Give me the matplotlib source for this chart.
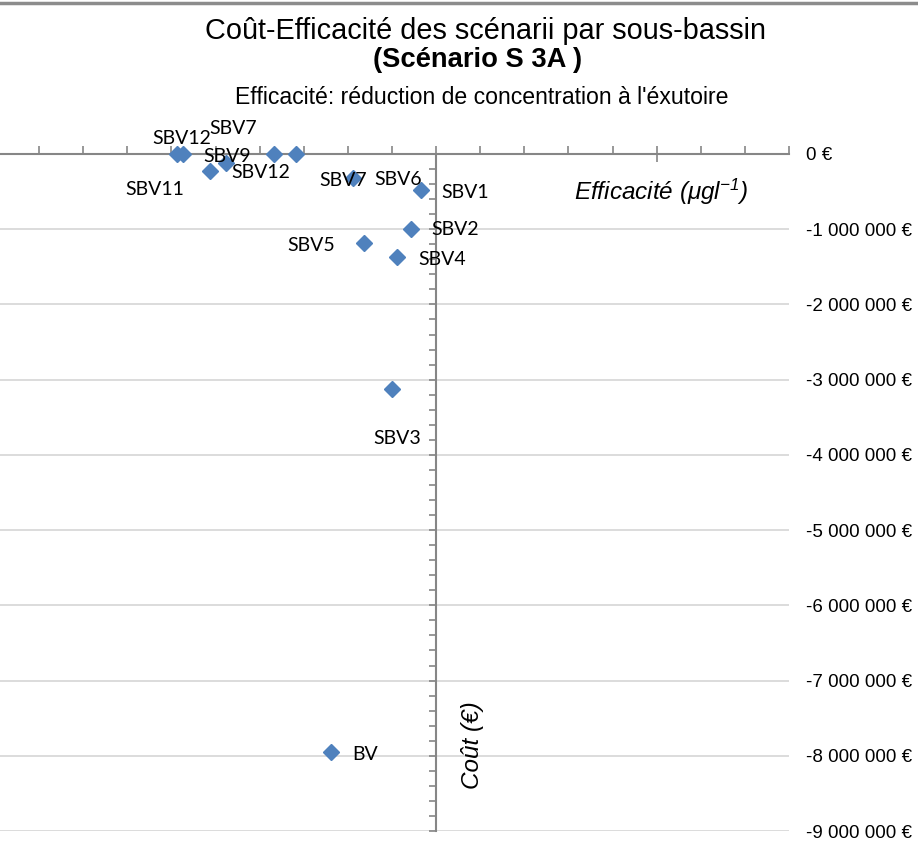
import matplotlib
matplotlib.use("Agg")
import matplotlib.pyplot as plt
from matplotlib.ticker import MultipleLocator, FixedLocator
from matplotlib.lines import Line2D

# ---- data ----
labels = ["SBV12", "SBV9", "SBV12", "SBV11", "SBV7", "SBV7", "SBV6",
          "SBV1", "SBV2", "SBV5", "SBV4", "SBV3", "BV"]
efficacite = [-0.1175, -0.1147, -0.1025, -0.0952, -0.0735, -0.0635, -0.0376,
              -0.0068, -0.0113, -0.0327, -0.0177, -0.0200, -0.0476]
cout = [0, 0, -226000, -120000, 0, 0, -319000,
        -479000, -997000, -1184000, -1370000, -3125000, -7952000]
ytick_values = [0, -1e6, -2e6, -3e6, -4e6, -5e6, -6e6, -7e6, -8e6, -9e6]
ytick_labels = ["0 €", "-1 000 000 €", "-2 000 000 €", "-3 000 000 €", "-4 000 000 €",
                "-5 000 000 €", "-6 000 000 €", "-7 000 000 €", "-8 000 000 €", "-9 000 000 €"]

# label offsets (pixels: dx right, dy down)
label_offsets = [(5, -16), (44, 3), (51, 1), (-71, 26), (-41, -26), (47, 27), (45, 2),
                 (44, 2), (44, 1), (-53, 2), (45, 2), (5, 49), (34, 2)]

W, H = 918, 855
fig = plt.figure(figsize=(W / 100, H / 100), dpi=100)
fig.patch.set_facecolor("white")

ax_left = -5 / W
ax_right = 789 / W
ax_top = 1 - 154 / H
ax_bot = 1 - 831 / H
ax = fig.add_axes([ax_left, ax_bot, ax_right - ax_left, ax_top - ax_bot])
ax.set_xlim(-0.2, 0.16)
ax.set_ylim(-9e6, 0)

axis_col = "#868686"
grid_col = "#d9d9d9"

# spines through origin
ax.spines["left"].set_position(("data", 0))
ax.spines["bottom"].set_position(("data", 0))
ax.spines["top"].set_visible(False)
ax.spines["right"].set_visible(False)
for s in ("left", "bottom"):
    ax.spines[s].set_color(axis_col)
    ax.spines[s].set_linewidth(1.5)
    ax.spines[s].set_zorder(3)

# x ticks
ax.xaxis.set_major_locator(MultipleLocator(0.1))
ax.xaxis.set_minor_locator(MultipleLocator(0.02))
ax.tick_params(axis="x", which="major", direction="inout", length=12, width=1.2,
               color=axis_col, labelbottom=False)
ax.tick_params(axis="x", which="minor", direction="in", length=6, width=1.2,
               color=axis_col)

# y ticks
ax.yaxis.set_major_locator(FixedLocator(ytick_values))
ax.yaxis.set_minor_locator(MultipleLocator(2e5))
ax.tick_params(axis="y", which="both", direction="out", length=5, width=1.2,
               color=axis_col, labelleft=False)
ax.yaxis.grid(True, which="major", color=grid_col, linewidth=1.3, zorder=0)
ax.set_axisbelow(True)

# scatter
ax.plot(efficacite, cout, linestyle="none", marker="D", markersize=7.8,
        color="#4f81bd", markeredgecolor="#4f81bd", clip_on=False, zorder=4)

for lab, x, y, (dx, dy) in zip(labels, efficacite, cout, label_offsets):
    ax.annotate(lab, (x, y), xytext=(dx * 0.72, -dy * 0.72), textcoords="offset points",
                ha="center", va="center", fontsize=14, family="Lato",
                color="black", zorder=5, annotation_clip=False)

# right-hand labels
ax2 = ax.twinx()
ax2.set_ylim(ax.get_ylim())
ax2.yaxis.set_major_locator(FixedLocator(ytick_values))
ax2.set_yticklabels(ytick_labels)
ax2.tick_params(axis="y", length=0, pad=12, labelsize=13.5)
for t in ax2.get_yticklabels():
    t.set_family("Liberation Sans")
for s in ax2.spines.values():
    s.set_visible(False)

# titles
fig.text(485 / W, 1 - 31 / H, "Coût-Efficacité des scénarii par sous-bassin", ha="center",
         va="center", fontsize=20.8, family="Liberation Sans")
fig.text(478 / W, 1 - 60 / H, "(Scénario S 3A )", ha="center", va="center",
         fontsize=19.7, family="Liberation Sans", weight="bold")
fig.text(482 / W, 1 - 97 / H, "Efficacité: réduction de concentration à l'éxutoire",
         ha="center", va="center", fontsize=16.6, family="Liberation Sans")

plt.rcParams["mathtext.fontset"] = "custom"
plt.rcParams["mathtext.rm"] = "Liberation Sans:italic"
plt.rcParams["mathtext.it"] = "Liberation Sans:italic"
plt.rcParams["mathtext.default"] = "it"

fig.text(661 / W, 1 - 192 / H, "Efficacité ($\\mu$gl$^{-1}$)", ha="center", va="center",
         fontsize=17.5, family="Liberation Sans", style="italic")
fig.text(472 / W, 1 - 745 / H, "Coût (€)", ha="center", va="center", rotation=90,
         fontsize=17.5, family="Liberation Sans", style="italic")

# top border of the chart area
fig.add_artist(Line2D([0, 1], [1 - 3 / H, 1 - 3 / H], transform=fig.transFigure,
                      color="#8c8c8c", linewidth=2.5))

fig.savefig("out.png", dpi=100, facecolor="white")
